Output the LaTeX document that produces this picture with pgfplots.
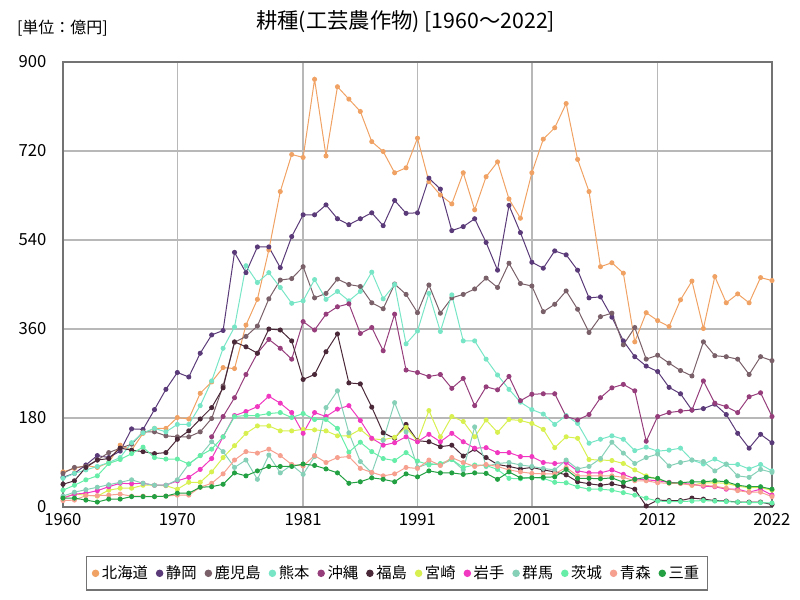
\documentclass[border=0pt]{standalone}
\usepackage{fontspec}
\setmainfont{Noto Sans CJK JP}
\usepackage{pgfplots}
\usepackage{pgfplotstable}
\pgfplotsset{compat=1.18}
\definecolor{cHok}{HTML}{F0A264}
\definecolor{cShz}{HTML}{5A3A78}
\definecolor{cKag}{HTML}{7A6068}
\definecolor{cKum}{HTML}{78E6C6}
\definecolor{cOki}{HTML}{963E7C}
\definecolor{cFuk}{HTML}{4A2838}
\definecolor{cMiy}{HTML}{D8F050}
\definecolor{cIwa}{HTML}{F038C0}
\definecolor{cGun}{HTML}{86D0B8}
\definecolor{cIba}{HTML}{66EEA8}
\definecolor{cAom}{HTML}{F6A090}
\definecolor{cMie}{HTML}{22A042}
\pgfplotstableread{
year hok shz kag kum oki fuk miy iwa gun iba aom mie
1960 71 60 68 58 nan 46 19 18 22 34 13 18
1961 78 68 80 68 nan 53 26 26 30 44 14 18
1962 84 85 82 75 nan 80 24 28 35 55 23 14
1963 80 104 95 82 nan 95 22 33 40 63 23 10
1964 90 100 110 90 nan 98 34 41 45 88 24 16
1965 125 113 119 100 nan 119 38 48 50 96 26 16
1966 115 158 127 130 nan 115 38 47 55 108 22 21
1967 149 157 152 150 nan 112 44 48 48 121 22 21
1968 159 197 152 159 nan 108 44 44 44 100 21 21
1969 159 238 144 152 nan 110 43 44 44 97 22 22
1970 181 272 142 167 nan 137 36 53 55 97 24 28
1971 178 263 142 167 nan 154 50 60 87 87 24 28
1972 230 311 152 205 nan 178 50 76 104 104 40 40
1973 253 348 179 255 142 201 71 98 132 117 48 41
1974 282 357 245 321 183 241 100 142 112 142 67 46
1975 280 515 333 364 221 334 124 185 80 183 95 69
1976 368 474 345 488 268 324 149 193 95 185 112 63
1977 420 526 366 454 311 311 164 203 56 185 109 73
1978 520 526 421 474 339 360 164 224 105 189 117 82
1979 638 484 459 444 321 358 154 210 69 191 104 82
1980 713 547 462 412 299 336 154 191 85 181 86 82
1981 707 591 486 417 375 258 157 149 66 189 83 87
1982 865 591 423 460 358 268 156 191 102 177 104 84
1983 710 611 432 420 390 314 154 183 201 177 90 77
1984 850 583 461 436 405 350 144 198 235 159 100 69
1985 825 571 450 417 411 251 144 205 150 111 102 48
1986 800 583 446 436 351 249 157 175 92 131 78 51
1987 739 595 413 475 363 202 138 139 69 112 70 59
1988 719 569 401 421 316 150 136 125 135 98 63 56
1989 676 620 451 450 390 139 141 130 211 94 67 51
1990 686 594 430 330 277 167 161 142 152 110 80 67
1991 746 595 393 356 272 134 133 132 80 93 78 61
1992 658 665 449 432 264 132 195 147 88 85 95 73
1993 631 643 392 355 268 122 142 132 85 88 84 69
1994 613 559 423 429 240 125 183 149 96 96 100 69
1995 676 567 430 336 260 103 173 132 75 80 90 66
1996 601 583 441 336 205 117 142 119 162 85 82 69
1997 668 535 463 299 243 100 176 120 82 84 86 68
1998 698 479 444 267 237 86 151 110 88 76 82 56
1999 623 610 493 238 264 82 177 110 90 58 75 71
2000 584 555 452 212 215 77 175 102 85 57 71 59
2001 676 495 447 197 228 80 169 102 82 60 68 59
2002 744 483 395 188 229 75 157 90 78 58 67 60
2003 767 518 410 167 229 71 120 88 75 50 67 61
2004 816 510 437 185 183 65 142 90 95 49 80 76
2005 703 479 400 169 176 51 139 73 77 41 63 58
2006 638 423 353 129 187 47 96 69 82 36 63 58
2007 486 425 385 137 221 44 95 69 98 36 63 57
2008 494 384 392 144 241 47 94 75 131 34 63 59
2009 473 336 328 137 248 42 88 66 109 29 60 50
2010 334 304 363 114 235 36 75 57 88 24 53 56
2011 393 285 299 121 133 2 63 55 100 18 53 60
2012 377 274 307 113 183 14 56 53 107 12 49 58
2013 365 242 291 115 191 13 49 50 83 11 48 49
2014 419 229 276 119 194 13 48 48 90 11 48 49
2015 457 196 265 95 196 18 44 46 95 12 44 51
2016 361 199 334 87 255 16 49 42 92 13 44 51
2017 466 208 306 97 210 13 49 41 73 12 42 53
2018 413 187 304 86 203 12 48 36 87 11 38 51
2019 431 149 299 86 191 10 42 36 63 10 33 44
2020 413 119 268 77 223 10 39 30 60 9 30 41
2021 464 147 304 86 231 10 39 36 76 9 30 41
2022 458 130 296 73 183 5 34 24 70 8 21 36
}\data
\begin{document}
\begin{tikzpicture}[x=1pt,y=1pt]
\useasboundingbox (-47.25,-69.75) rectangle (552.75,380.25);
\begin{axis}[
  at={(0,0)}, anchor=south west, scale only axis,
  width=531.75pt, height=333.75pt,
  xmin=1960, xmax=2022, ymin=0, ymax=900,
  xtick={1960,1970,1981,1991,2001,2012,2022},
  ytick={0,180,360,540,720,900},
  grid=major,
  grid style={color=black!28, line width=1.2pt},
  axis line style={color=black!55, line width=1.4pt},
  major tick length=0pt,
  tick label style={font=\fontsize{12.5}{14}\selectfont},
  /pgf/number format/assume math mode=true,
  xticklabel style={/pgf/number format/1000 sep={}, yshift=-1pt},
  yticklabel style={xshift=-9pt},
  unbounded coords=jump,
  every axis plot/.append style={line width=0.75pt, mark=*, mark size=1.5pt},
  legend columns=12,
  legend cell align=left,
  legend style={at={(0.471,-0.149)}, anchor=center, draw=black!55, line width=1pt,
    font=\fontsize{11.5}{13}\selectfont, inner xsep=4pt, inner ysep=5pt,
    /tikz/every even column/.append style={column sep=4pt},
    /tikz/every odd column/.append style={column sep=0pt}},
  legend image code/.code={\fill[#1] (0pt,0pt) circle (2.4pt);},
]
\addplot[cHok] table[x=year,y=hok]{\data}; \addlegendentry{北海道}
\addplot[cShz] table[x=year,y=shz]{\data}; \addlegendentry{静岡}
\addplot[cKag] table[x=year,y=kag]{\data}; \addlegendentry{鹿児島}
\addplot[cKum] table[x=year,y=kum]{\data}; \addlegendentry{熊本}
\addplot[cOki] table[x=year,y=oki]{\data}; \addlegendentry{沖縄}
\addplot[cFuk] table[x=year,y=fuk]{\data}; \addlegendentry{福島}
\addplot[cMiy] table[x=year,y=miy]{\data}; \addlegendentry{宮崎}
\addplot[cIwa] table[x=year,y=iwa]{\data}; \addlegendentry{岩手}
\addplot[cGun] table[x=year,y=gun]{\data}; \addlegendentry{群馬}
\addplot[cIba] table[x=year,y=iba]{\data}; \addlegendentry{茨城}
\addplot[cAom] table[x=year,y=aom]{\data}; \addlegendentry{青森}
\addplot[cMie] table[x=year,y=mie]{\data}; \addlegendentry{三重}
\end{axis}
\node[font=\fontsize{16}{18}\selectfont] at (257,363.75) {耕種(工芸農作物) [1960～2022]};
\node[font=\fontsize{12}{14}\selectfont, anchor=west] at (-38,359.25) {[単位：億円]};
\end{tikzpicture}
\end{document}
